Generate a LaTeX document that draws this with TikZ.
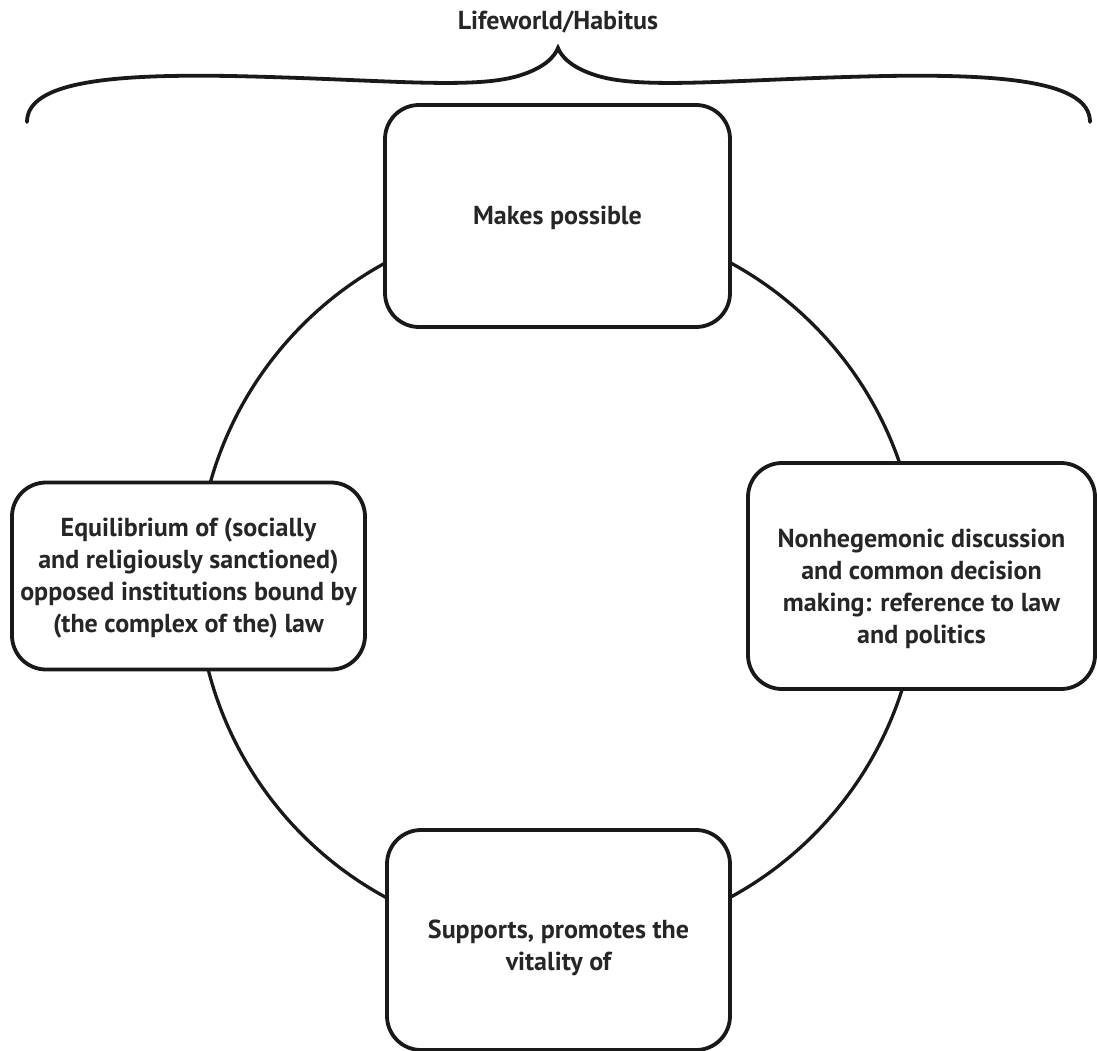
\documentclass[tikz,border=0pt]{standalone}
\usepackage{fontspec}
\setmainfont{PT Sans}
\begin{document}
\begin{tikzpicture}[x=1pt, y=-1pt, line width=3.8pt, color=black!90,
		label/.style={font=\bfseries\fontsize{26}{32}\selectfont, text=black!85},
		box/.style={draw, fill=white, rounded corners=34pt, inner sep=0pt}]
		\useasboundingbox (0,0) rectangle (1097,1051);
		% the brace over everything
		\node[label] (title) at (558,22) {Lifeworld/Habitus};
		\coordinate (tip) at (558,48);
		\draw[line width=3.8pt, line cap=round] (27,122) .. controls (27,82) and (110,74) .. (230,76) .. controls (380,79) and (470,90) .. (518,76) .. controls (545,68) and (555,56) .. (tip) .. controls (561,56) and (571,68) .. (598,76) .. controls (646,90) and (736,79) .. (886,76) .. controls (1006,74) and (1090,82) .. (1090,122);
		% the cycle
		\coordinate (hub) at (558,580);
		\draw[line width=3.3pt] (hub) circle[radius=361pt];
		\foreach \name/\x/\y/\w/\h/\dy/\txt in {
			top/557.5/216/345/222/2/{Makes possible},
			right/921.5/576/347/226/13/{Nonhegemonic discussion\\and common decision\\making: reference to law\\and politics},
			bottom/558.5/940/343/220/8/{Supports, promotes the\\vitality of},
			left/188.5/576/353/187/2/{Equilibrium of (socially\\and religiously sanctioned)\\opposed institutions bound by\\(the complex of the) law}}{
			\node[box, minimum width=\w pt, minimum height=\h pt] (\name) at (\x,\y) {};
			\node[label, align=center] (\name text) at ([yshift=-\dy pt]\name.center) {\txt};}
		\end{tikzpicture}
\end{document}
